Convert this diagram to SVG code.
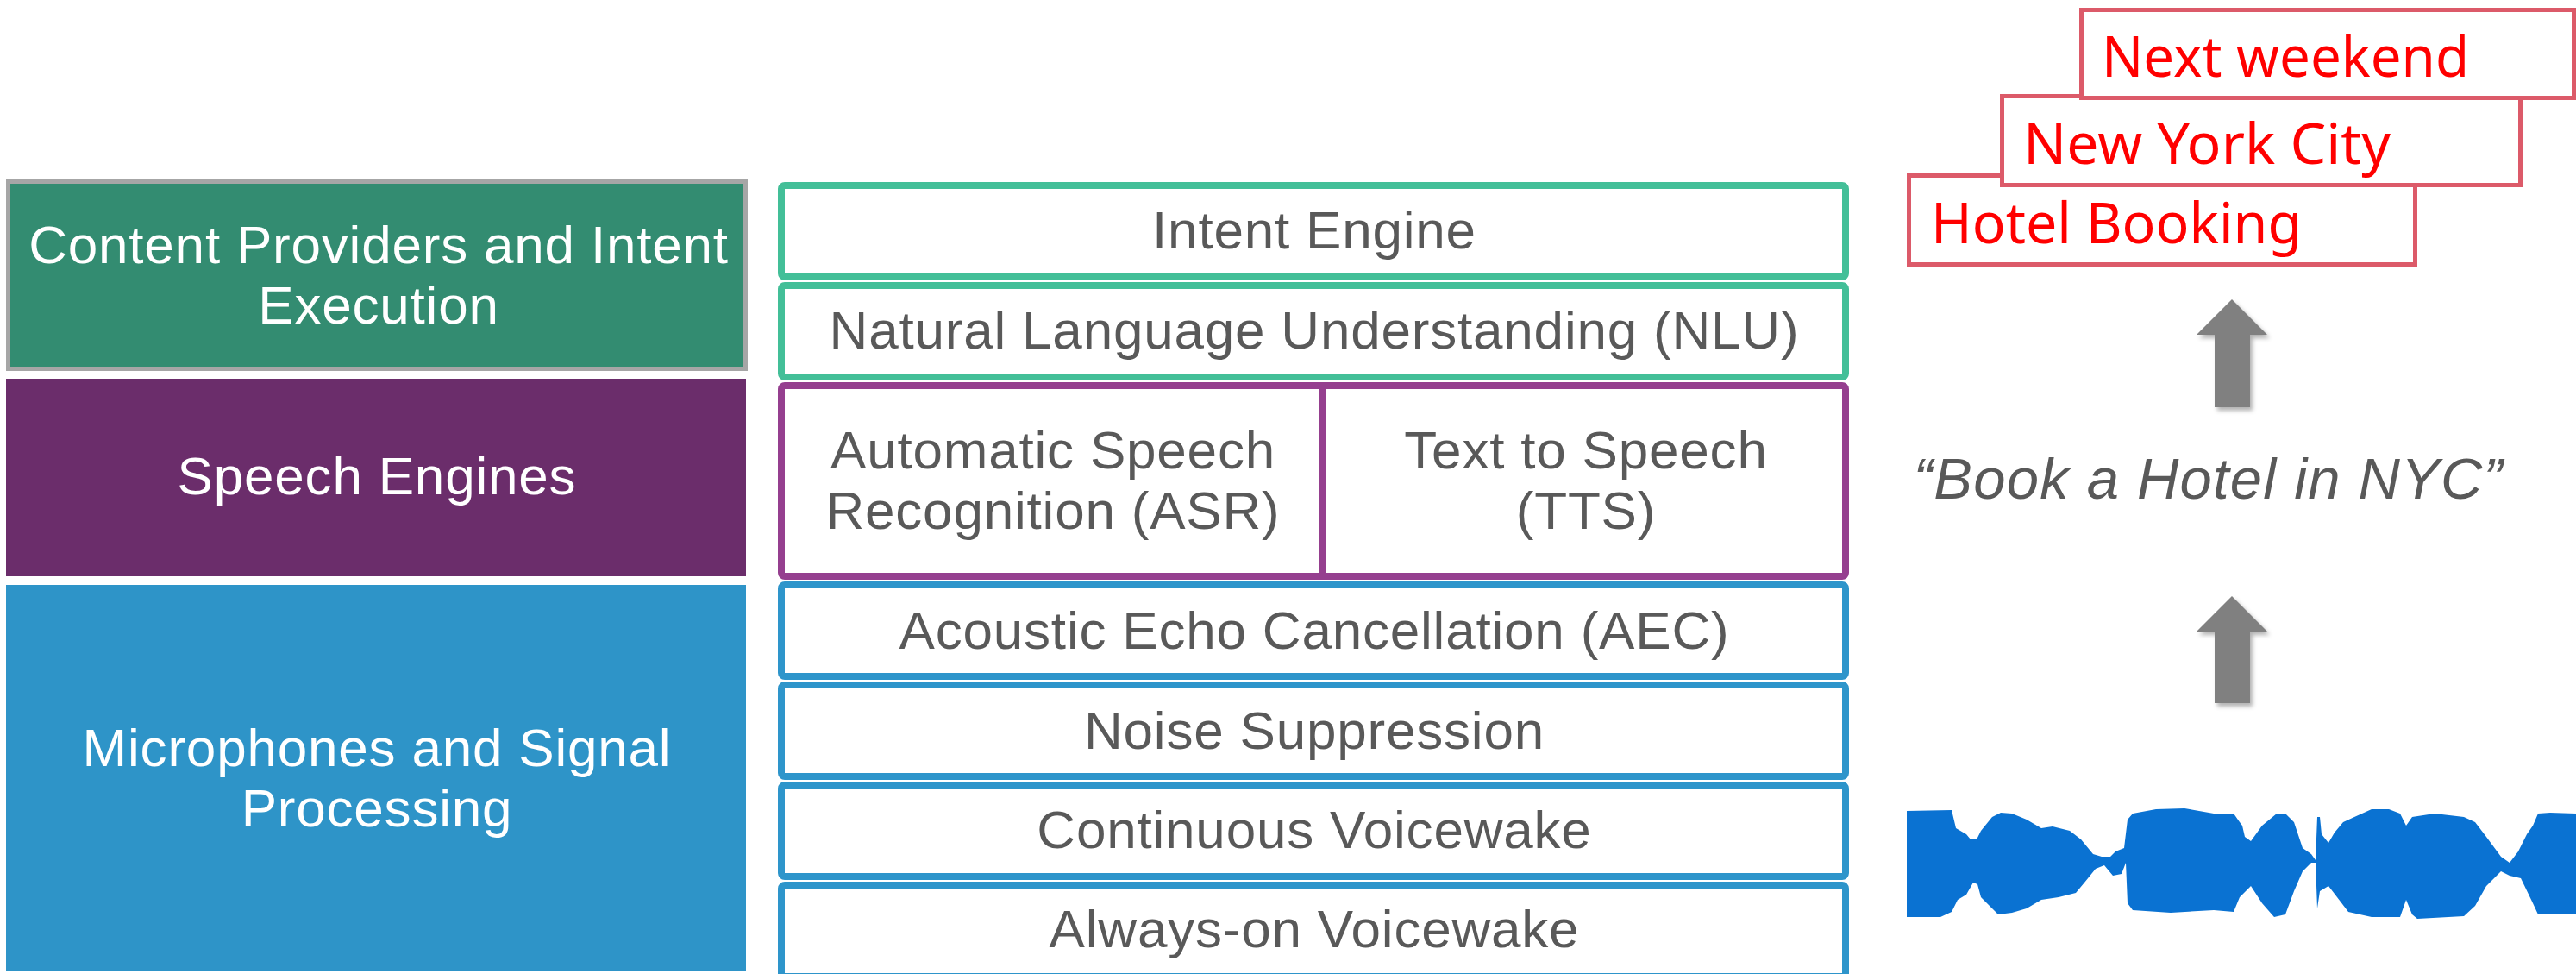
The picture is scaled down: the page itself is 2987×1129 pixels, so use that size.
<svg xmlns="http://www.w3.org/2000/svg" width="2987" height="1129" viewBox="0 0 2987 1129">
  <defs>
    <style>
      .lbl { font-family: "Liberation Sans", Arial, sans-serif; font-size: 62px; letter-spacing: 0.8px; text-anchor: middle; }
      .white { fill: #ffffff; }
      .gray { fill: #595959; }
      .cell { fill: #ffffff; stroke-width: 8; }
      .teal { stroke: #43BF98; }
      .plum { stroke: #953F8F; }
      .sky { stroke: #2E95CB; }
      .tag { fill: #ffffff; stroke: #DC5A69; stroke-width: 5; }
      .tagtxt { font-family: "Noto Sans", "Open Sans", sans-serif; font-size: 66px; fill: #FF0000; }
      .quote { font-family: "Liberation Sans", Arial, sans-serif; font-size: 67px; font-style: italic; fill: #595959; letter-spacing: 1.2px; text-anchor: middle; }
      .blockarrow { fill: #808080; }
    </style>
    <filter id="shadow" x="-30%" y="-30%" width="160%" height="160%">
      <feDropShadow dx="3" dy="4" stdDeviation="2.5" flood-color="#000000" flood-opacity="0.3"/>
    </filter>
  </defs>

  <rect width="2987" height="1129" fill="#ffffff"/>

  <!-- Layer labels (left column) -->
  <g id="layer-content">
    <rect x="9.5" y="210.5" width="855" height="217" fill="#338C71" stroke="#A6A6A6" stroke-width="5"/>
    <text class="lbl white" x="439" y="305">Content Providers and Intent</text>
    <text class="lbl white" x="439" y="375">Execution</text>
  </g>
  <g id="layer-speech">
    <rect x="7" y="439" width="858" height="229" fill="#6B2D6B"/>
    <text class="lbl white" x="437" y="573">Speech Engines</text>
  </g>
  <g id="layer-signal">
    <rect x="7" y="678" width="858" height="448" fill="#2E94C8"/>
    <text class="lbl white" x="437" y="888">Microphones and Signal</text>
    <text class="lbl white" x="437" y="958">Processing</text>
  </g>

  <!-- Components (middle column) -->
  <g id="intent-engine">
    <rect class="cell teal" x="906" y="215" width="1234" height="106" rx="4"/>
    <text class="lbl gray" x="1524" y="288">Intent Engine</text>
  </g>
  <g id="nlu">
    <rect class="cell teal" x="906" y="331" width="1234" height="106" rx="4"/>
    <text class="lbl gray" x="1524" y="404">Natural Language Understanding (NLU)</text>
  </g>
  <g id="speech-engines">
    <rect class="cell plum" x="906" y="447" width="1234" height="221" rx="4"/>
    <line x1="1533" y1="447" x2="1533" y2="668" stroke="#953F8F" stroke-width="8"/>
    <g id="asr">
      <text class="lbl gray" x="1221" y="543">Automatic Speech</text>
      <text class="lbl gray" x="1221" y="613">Recognition (ASR)</text>
    </g>
    <g id="tts">
      <text class="lbl gray" x="1839" y="543">Text to Speech</text>
      <text class="lbl gray" x="1839" y="613">(TTS)</text>
    </g>
  </g>
  <g id="aec">
    <rect class="cell sky" x="906" y="678" width="1234" height="106" rx="4"/>
    <text class="lbl gray" x="1524" y="752">Acoustic Echo Cancellation (AEC)</text>
  </g>
  <g id="noise-suppression">
    <rect class="cell sky" x="906" y="794" width="1234" height="106" rx="4"/>
    <text class="lbl gray" x="1524" y="868">Noise Suppression</text>
  </g>
  <g id="continuous-voicewake">
    <rect class="cell sky" x="906" y="910" width="1234" height="106" rx="4"/>
    <text class="lbl gray" x="1524" y="983">Continuous Voicewake</text>
  </g>
  <g id="always-on-voicewake">
    <rect class="cell sky" x="906" y="1026" width="1234" height="106" rx="4"/>
    <text class="lbl gray" x="1524" y="1098">Always-on Voicewake</text>
  </g>

  <!-- Example flow (right column) -->
  <g id="intent-tags">
    <g id="tag-hotel">
      <rect class="tag" x="2213.5" y="203.5" width="587" height="103"/>
      <text class="tagtxt" x="2239" y="282" textLength="430" lengthAdjust="spacingAndGlyphs">Hotel Booking</text>
    </g>
    <g id="tag-city">
      <rect class="tag" x="2321.5" y="111.5" width="601" height="103"/>
      <text class="tagtxt" x="2346" y="190" textLength="426" lengthAdjust="spacingAndGlyphs">New York City</text>
    </g>
    <g id="tag-date">
      <rect class="tag" x="2413.5" y="11.5" width="571" height="102"/>
      <text class="tagtxt" x="2437" y="89" textLength="426" lengthAdjust="spacingAndGlyphs">Next weekend</text>
    </g>
  </g>

  <g id="utterance">
    <text class="quote" x="2561" y="578">“Book a Hotel in NYC”</text>
  </g>

  <g id="waveform">
    <path fill="#0A72D2" d="M2211,940 L2263,939 L2268,960 L2280,967 L2285,973 L2292,973 L2297,963 L2310,947 L2320,942 L2333,943 L2350,950 L2367,960 L2380,958 L2400,963 L2413,973 L2427,990 L2437,993 L2447,993 L2453,987 L2463,983 L2467,950 L2473,943 L2500,938 L2533,937 L2567,943 L2590,943 L2597,953 L2600,957 L2603,970 L2610,975 L2623,957 L2640,943 L2650,943 L2660,953 L2670,983 L2680,990 L2685,997 L2687,947 L2690,947 L2692,967 L2700,977 L2707,965 L2717,953 L2730,947 L2750,938 L2770,938 L2783,943 L2790,957 L2797,947 L2823,943 L2857,947 L2870,953 L2883,970 L2900,993 L2910,1000 L2920,987 L2930,967 L2937,957 L2943,943 L2957,942 L2987,943 L2987,1060 L2943,1060 L2937,1047 L2923,1018 L2910,1015 L2900,1010 L2883,1027 L2870,1050 L2857,1062 L2803,1065 L2797,1060 L2790,1043 L2783,1063 L2750,1063 L2723,1057 L2710,1040 L2700,1027 L2690,1033 L2687,1053 L2685,1000 L2680,1000 L2670,1010 L2660,1033 L2650,1060 L2637,1063 L2623,1047 L2610,1027 L2600,1037 L2597,1040 L2590,1057 L2567,1055 L2517,1058 L2473,1055 L2467,1047 L2465,1000 L2460,1013 L2450,1015 L2440,1003 L2430,1007 L2417,1023 L2407,1035 L2387,1040 L2367,1043 L2350,1053 L2333,1058 L2317,1060 L2307,1050 L2297,1040 L2293,1025 L2288,1023 L2280,1037 L2270,1043 L2263,1057 L2250,1063 L2211,1063 Z"/>
  </g>

  <!-- Block arrows between stages -->
  <g id="connectors">
    <polygon class="blockarrow" filter="url(#shadow)" points="2588,691 2629,732 2609,732 2609,815 2568,815 2568,732 2547,732"/>
    <polygon class="blockarrow" filter="url(#shadow)" points="2588,347 2629,388 2609,388 2609,472 2568,472 2568,388 2547,388"/>
  </g>
</svg>
